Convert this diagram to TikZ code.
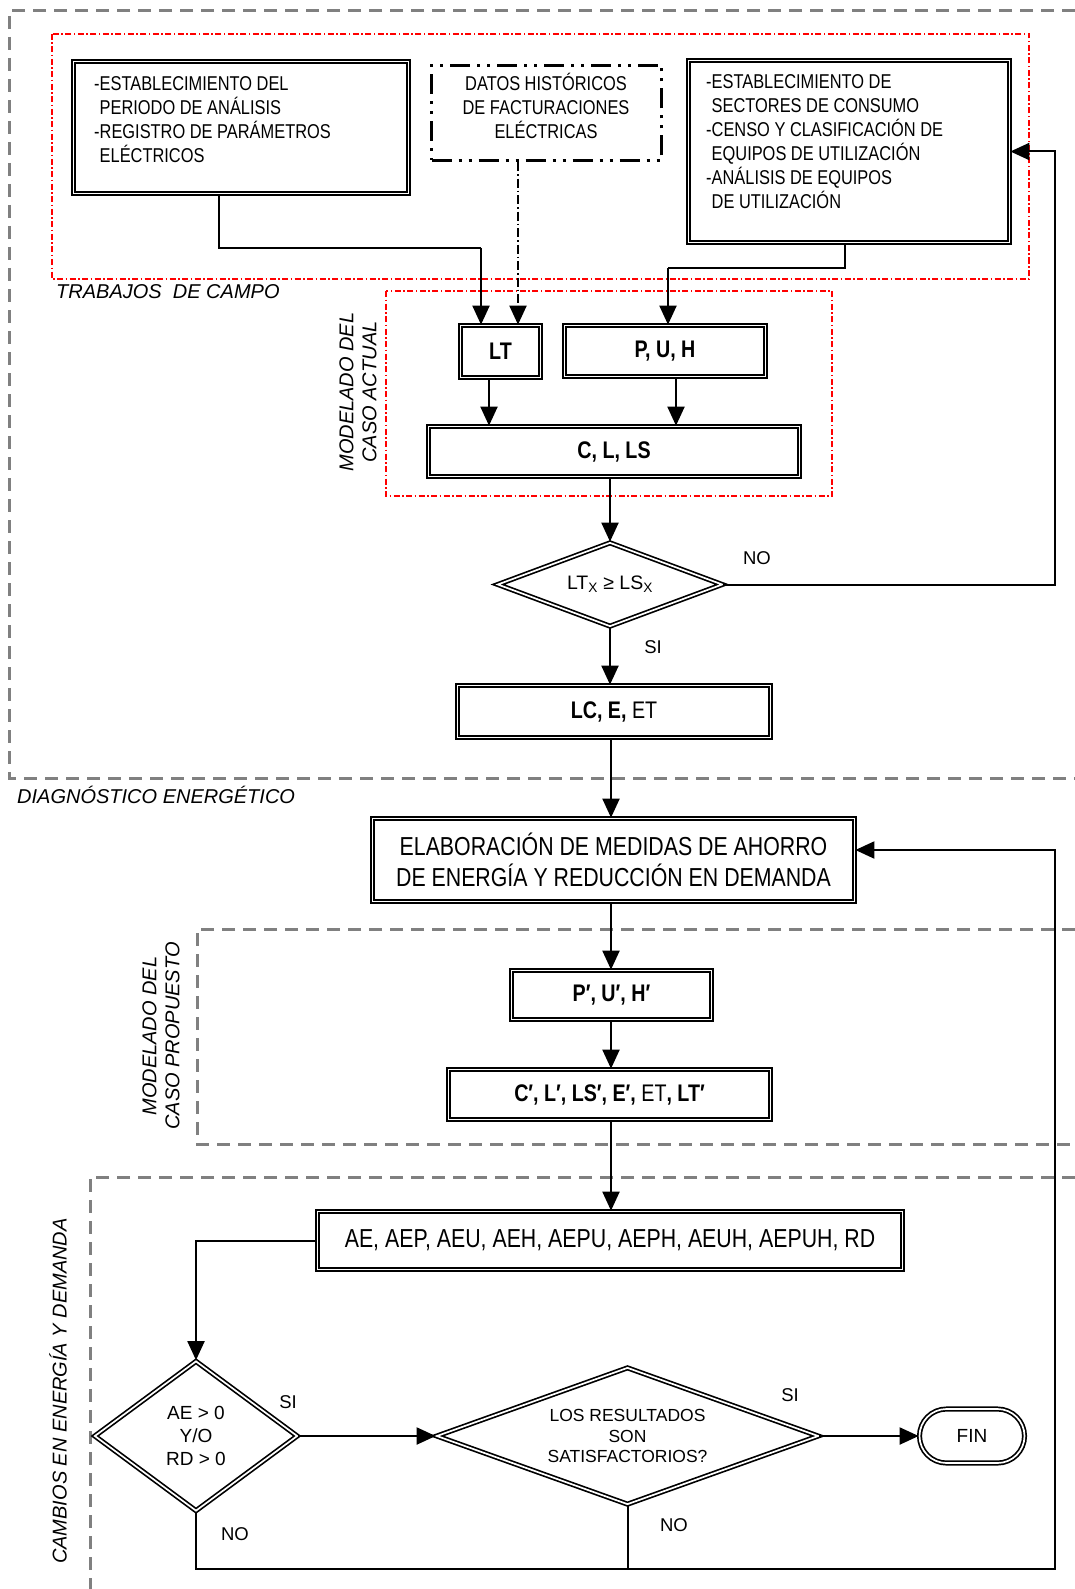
\documentclass[tikz,border=0pt]{standalone}
\usepackage{fontspec}
\setmainfont{Liberation Sans}
\newfontfamily\nf[FakeStretch=0.82]{Liberation Sans}
\usetikzlibrary{arrows.meta,shapes.geometric,shapes.misc}
\definecolor{dgray}{RGB}{128,128,128}
\begin{document}
\begin{tikzpicture}[x=1pt,y=-1pt,
  dbl/.style={draw, double, double distance=1.7pt, line width=1.7pt, inner sep=0pt},
  boxn/.style 2 args={dbl, rectangle, minimum width=#1pt, minimum height=#2pt},
  dmd/.style n args={3}{dbl, diamond, aspect=#3, minimum width=#1pt, minimum height=#2pt},
  conn/.style={line width=2pt, -{Triangle[length=19pt,width=17pt]}},
  plain/.style={line width=2pt},
  ddconn/.style={line width=1.5pt, dash pattern=on 9pt off 3pt on 1.5pt off 3pt},
  grayd/.style={draw=dgray, line width=3pt, dash pattern=on 13pt off 8pt},
  redd/.style={draw=red, line width=1.1pt, dash pattern=on 6pt off 2.5pt on 1.5pt off 2.5pt},
  ddbox/.style={draw, line width=3.2pt, dash pattern=on 20pt off 7pt on 3pt off 7pt on 3pt off 7pt, inner sep=0pt},
  ntxt/.style={font=\nf\fontsize{20}{24}\selectfont, inner sep=0pt},
  btxt/.style={font=\nf\bfseries\fontsize{24}{28}\selectfont},
  bigtxt/.style={font=\nf\fontsize{26}{31}\selectfont, align=center},
  lab/.style={font=\fontsize{18.5}{22}\selectfont, inner sep=0pt},
  itl/.style={font=\itshape\fontsize{20}{23}\selectfont, inner sep=0pt}
]
\useasboundingbox[fill=white] (0,0) rectangle (1075,1589);

% gray dashed frames
\draw[grayd] (1075,11) -- (9,11) -- (9,778) -- (1075,778);
\draw[grayd] (1075,929) -- (197,929) -- (197,1144) -- (1075,1144);
\draw[grayd] (1075,1177) -- (90,1177) -- (90,1589);

% red dash-dot frames
\draw[redd] (52,34) rectangle (1029,279);
\draw[redd] (386,291) rectangle (832,496);

% group labels
\node[itl, anchor=west] (lbltc) at (56,292) {TRABAJOS \ DE CAMPO};
\node[itl, anchor=west] (lblde) at (17,795) {DIAGNÓSTICO ENERGÉTICO};
\node[itl, rotate=90, align=center] (lblma) at (358,392) {MODELADO DEL\\CASO ACTUAL};
\node[itl, rotate=90, align=center] (lblmp) at (161,1036) {MODELADO DEL\\CASO PROPUESTO};
\node[itl, rotate=90] (lblce) at (58,1391) {CAMBIOS EN ENERGÍA Y DEMANDA};

% top boxes
\node[boxn={335}{132}] (box1) at (241,127.5) {};
\node[ntxt, anchor=north west, align=left] (box1t) at (94,76)
  {-ESTABLECIMIENTO DEL\\\hspace*{5.5pt}PERIODO DE ANÁLISIS\\-REGISTRO DE PARÁMETROS\\\hspace*{5.5pt}ELÉCTRICOS};
\node[ddbox, minimum width=230pt, minimum height=95pt] (box2) at (546.5,113) {};
\node[ntxt, anchor=north, align=center] (box2t) at (546,73)
  {DATOS HISTÓRICOS\\DE FACTURACIONES\\ELÉCTRICAS};
\node[boxn={321}{182}] (box3) at (849,151.5) {};
\node[ntxt, anchor=north west, align=left] (box3t) at (706,74)
  {-ESTABLECIMIENTO DE\\\hspace*{5.5pt}SECTORES DE CONSUMO\\-CENSO Y CLASIFICACIÓN DE\\\hspace*{5.5pt}EQUIPOS DE UTILIZACIÓN\\-ANÁLISIS DE EQUIPOS\\\hspace*{5.5pt}DE UTILIZACIÓN};

% modelado actual
\node[boxn={80}{52}, btxt] (lt) at (500.5,351.5) {LT};
\node[boxn={201}{51}, btxt] (puh) at (665,351) {P, U, H};
\node[boxn={371}{50}, btxt] (clls) at (614,451.5) {C, L, LS};
\node[dmd={225}{84}{2.6}, font=\fontsize{19.5}{22}\selectfont] (d1) at (610,584.5) {LT\textsubscript{X} ≥ LS\textsubscript{X}};
\node[boxn={313}{52}, btxt] (lceet) at (614,711.5) {LC, E, \mdseries ET};

% propuesta
\node[boxn={482}{83}, bigtxt] (elab) at (613.5,860)
  {ELABORACIÓN DE MEDIDAS DE AHORRO\\DE ENERGÍA Y REDUCCIÓN EN DEMANDA};
\node[boxn={200}{49}, btxt] (pp) at (611.5,995) {P′, U′, H′};
\node[boxn={322}{50}, btxt] (cp) at (609.5,1094.5) {C′, L′, LS′, E′, {\mdseries ET}, LT′};
\node[boxn={585}{58}, font=\nf\fontsize{26}{31}\selectfont] (ae) at (610,1240.5)
  {AE, AEP, AEU, AEH, AEPU, AEPH, AEUH, AEPUH, RD};
\node[dmd={203}{150}{1.35}, align=center, font=\fontsize{19}{23}\selectfont] (d2) at (196,1436)
  {AE > 0\\Y/O\\RD > 0};
\node[dmd={382}{137}{2.75}, align=center, font=\fontsize{17.5}{20.5}\selectfont] (d3) at (627.5,1436)
  {LOS RESULTADOS\\SON\\SATISFACTORIOS?};
\node[dbl, rounded rectangle, minimum width=105pt, minimum height=54pt, font=\fontsize{19}{22}\selectfont] (fin) at (972,1436) {FIN};

% edge labels
\node[lab] (no1) at (757,558) {NO};
\node[lab] (si1) at (653,647) {SI};
\node[lab] (si2) at (288,1402) {SI};
\node[lab] (no2) at (235,1534) {NO};
\node[lab] (si3) at (790,1395) {SI};
\node[lab] (no3) at (674,1525) {NO};

% kink coordinates
\coordinate (k1) at (219,248);
\coordinate (k2) at (481,248);
\coordinate (k3) at (518,0);
\coordinate (k4) at (845,268);
\coordinate (k5) at (668,268);
\coordinate (k6) at (489,0);
\coordinate (k6b) at (676,0);
\coordinate (kr) at (1055,0);
\coordinate (cx) at (611,0);
\coordinate (kb) at (0,1569);

% connectors
\draw[plain] (box1.south -| k1) -- (k1) -- (k2);
\draw[conn] (k2) -- (k2 |- lt.north);
\draw[ddconn] (box2.south -| k3) -- ([yshift=18pt]lt.north -| k3);
\draw[conn] ([yshift=19pt]lt.north -| k3) -- (lt.north -| k3);
\draw[plain] (box3.south -| k4) -- (k4) -- (k5);
\draw[conn] (k5) -- (k5 |- puh.north);
\draw[conn] (lt.south -| k6) -- (clls.north -| k6);
\draw[conn] (puh.south -| k6b) -- (clls.north -| k6b);
\draw[conn] (clls.south -| d1.north) -- (d1.north);
\draw[conn] (d1.east) -- (d1.east -| kr) -- (box3.east -| kr) -- (box3.east);
\draw[conn] (d1.south) -- (d1.south |- lceet.north);
\draw[conn] (lceet.south -| cx) -- (elab.north -| cx);
\draw[conn] (elab.south -| cx) -- (pp.north -| cx);
\draw[conn] (pp.south -| cx) -- (cp.north -| cx);
\draw[conn] (cp.south -| cx) -- (ae.north -| cx);
\draw[conn] (ae.west) -- (ae.west -| d2.north) -- (d2.north);
\draw[conn] (d2.east) -- (d3.west);
\draw[conn] (d3.east) -- (fin.west);
\draw[plain] (d3.south) -- (d3.south |- kb);
\draw[conn] (d2.south) -- (d2.south |- kb) -- (kr |- kb) -- ([yshift=10pt]elab.east -| kr) -- ([yshift=10pt]elab.east);
\end{tikzpicture}
\end{document}
